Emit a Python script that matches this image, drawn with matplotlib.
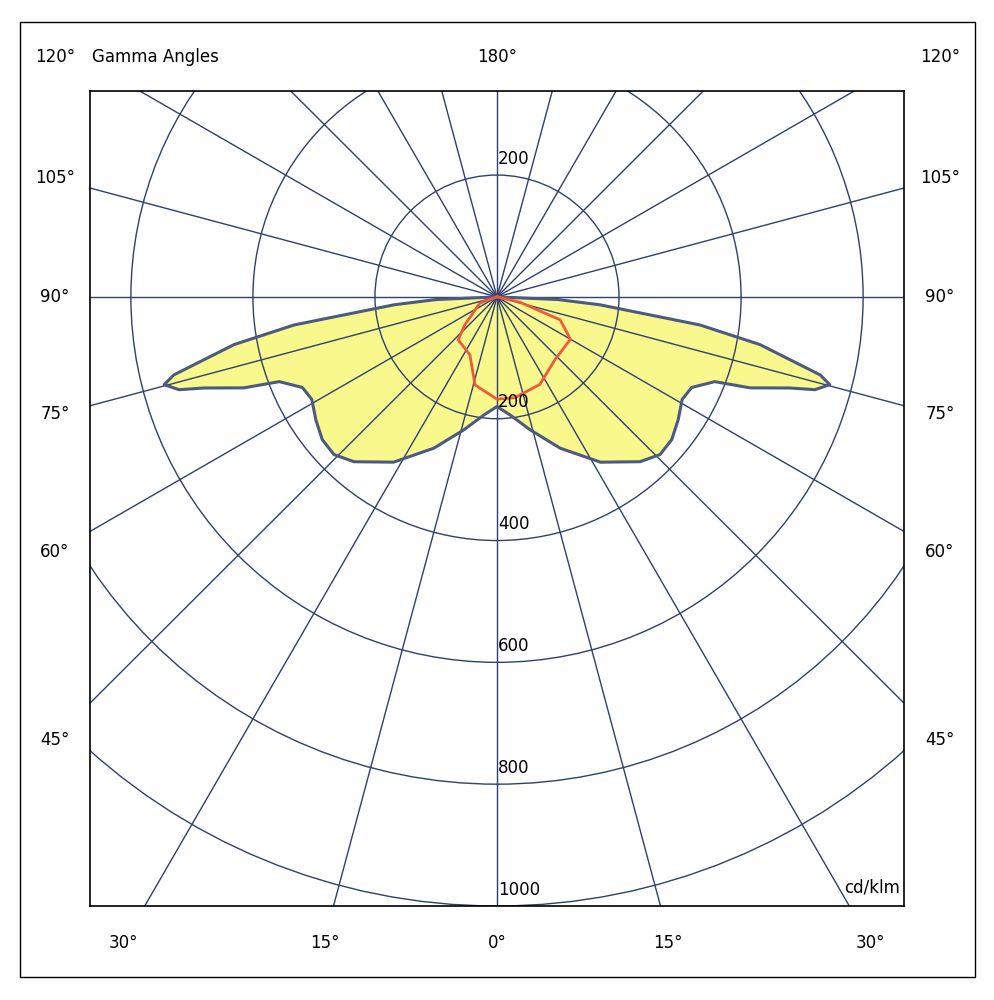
import numpy as np
import matplotlib.pyplot as plt
from matplotlib.patches import Circle, Rectangle

# yellow curve (C0-C180), gamma in degrees, intensity cd/klm, symmetric
yellow_gamma = [0, 6.3, 14, 22.6, 32, 40.9, 45.9, 50.7, 55.8, 61, 65, 68.7, 70.2, 72.7,
                73.7, 75.2, 76.4, 79.7, 82.1, 85.6, 87.5, 90]
yellow_int = [180, 195, 225, 269, 320, 358, 372, 370, 359, 347, 352, 383, 441, 503,
              543, 564, 545, 438, 336, 169, 100, 0]

# red curve (C90-C270), signed gamma (negative = left side)
red_gamma = [-90, -70, -49, -42, -25, -14, 0, 10, 26, 43, 60, 70, 77, 90]
red_int = [0, 30, 70, 95, 105, 149, 168, 168, 160, 140, 139, 110, 38, 0]

rings = [200, 400, 600, 800, 1000]
W, H = 994, 1000
grid_c = '#2e4070'

fig = plt.figure(figsize=(W / 100, H / 100), dpi=100)
ax = fig.add_axes([90 / W, 94 / H, 814 / W, 815 / H])
ax.set_xlim(-667, 667)
ax.set_ylim(-1000, 338)
ax.set_xticks([])
ax.set_yticks([])
for s in ax.spines.values():
    s.set_linewidth(1.2)

g = np.radians(np.array(yellow_gamma))
iv = np.array(yellow_int)
xs = np.concatenate([-iv[::-1] * np.sin(g[::-1]), iv[1:] * np.sin(g[1:])])
ys = np.concatenate([-iv[::-1] * np.cos(g[::-1]), -iv[1:] * np.cos(g[1:])])
ax.fill(xs, ys, facecolor='#f8f88c', edgecolor='none', zorder=1)

for a in np.arange(0, 360, 15):
    t = np.radians(a)
    ax.plot([0, 2000 * np.sin(t)], [0, -2000 * np.cos(t)], color=grid_c, lw=1, zorder=2)
for r in rings:
    ax.add_patch(Circle((0, 0), r, fill=False, ec=grid_c, lw=1, zorder=2))
ax.plot(np.append(xs, xs[0]), np.append(ys, ys[0]), color='#4a5a80', lw=2.2, zorder=4)

rg = np.radians(np.array(red_gamma))
ri = np.array(red_int)
ax.plot(ri * np.sin(rg), -ri * np.cos(rg), color='#f05a3a', lw=2, zorder=5)

ax.text(2, 200 + 12, '200', fontsize=12, va='bottom', zorder=6)
for r in rings:
    ax.text(2, -r + 12, str(r), fontsize=12, va='bottom', zorder=6)

def ft(x, y, s, ha='center'):
    fig.text(x / W, 1 - y / H, s, ha=ha, va='center', fontsize=12)

for lab, y in [('120°', 57), ('105°', 178), ('90°', 297), ('75°', 414), ('60°', 552), ('45°', 740)]:
    ft(55, y, lab)
    ft(940, y, lab)
for lab, x in [('30°', 123), ('15°', 325), ('0°', 497), ('15°', 668), ('30°', 870)]:
    ft(x, 943, lab)
ft(497, 57, '180°')
ft(92, 57, 'Gamma Angles', ha='left')
ft(900, 887, 'cd/klm', ha='right')

fig.add_artist(Rectangle((20 / W, 1 - 977 / H), 955 / W, 955 / H, transform=fig.transFigure,
                         fill=False, ec='black', lw=1))
fig.savefig('out.png', dpi=100, facecolor='white')
